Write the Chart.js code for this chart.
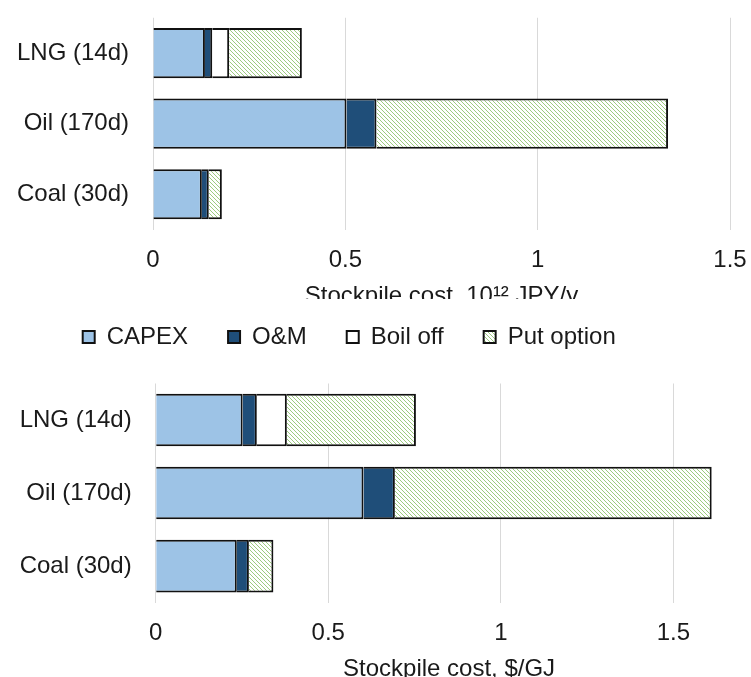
<!DOCTYPE html>
<html>
<head>
<meta charset="utf-8">
<script src="https://cdn.jsdelivr.net/npm/chart.js@4/dist/chart.umd.min.js"></script>
<style>
  body { margin: 0; width: 751px; height: 677px; overflow: hidden; position: relative; background: #fff; }
  #topWrap { position: absolute; left: 0; top: 0; width: 751px; height: 299px; overflow: hidden; }
  #bottomWrap { position: absolute; left: 0; top: 284px; width: 751px; height: 400px; }
</style>
</head>
<body>
<div id="topWrap"><canvas id="jpyChart" width="751" height="311"></canvas></div>
<div id="bottomWrap"><canvas id="gjChart" width="751" height="400"></canvas></div>
<script>
// 品目と系列
const categories = ['LNG (14d)', 'Oil (170d)', 'Coal (30d)'];
const seriesNames = ['CAPEX', 'O&M', 'Boil off', 'Put option'];
const xTicks = [0, 0.5, 1, 1.5];

// 備蓄コスト 10^12 JPY/y
const jpyCapex = [0.135, 0.503, 0.127];
const jpyOm = [0.019, 0.078, 0.018];
const jpyBoilOff = [0.044, null, null];
const jpyPut = [0.189, 0.758, 0.034];

// 備蓄コスト $/GJ
const gjCapex = [0.252, 0.602, 0.235];
const gjOm = [0.041, 0.091, 0.035];
const gjBoilOff = [0.087, null, null];
const gjPut = [0.374, 0.918, 0.071];

const FONT = "'Liberation Sans', Arial, sans-serif";
const TEXT = '#1a1a1a';
const GRID = '#d9d9d9';
const CLEAR = 'rgba(0,0,0,0)';

// 斜線ハッチ (Put option)
function makeHatch(ctx) {
    const tile = document.createElement('canvas');
    tile.width = 8;
    tile.height = 8;
    const c = tile.getContext('2d');
    c.fillStyle = '#ffffff';
    c.fillRect(0, 0, 8, 8);
    c.fillStyle = '#9ccb80';
    for (let i = 0; i < 8; i++) {
        c.fillRect(i, i, 1, 1);
        c.fillRect(i, (i + 4) % 8, 1, 1);
    }
    return ctx.createPattern(tile, 'repeat');
}

function buildDatasets(capex, om, boil, put, hatch, barPct) {
    const fills = ['#9dc3e6', '#1f4e79', '#ffffff', hatch];
    return [capex, om, boil, put].map((data, i) => ({
        label: seriesNames[i],
        data: data,
        backgroundColor: fills[i],
        borderColor: '#111111',
        borderWidth: 2,
        barPercentage: barPct,
        categoryPercentage: 1
    }));
}

function buildOptions(opts) {
    return {
        indexAxis: 'y',
        responsive: false,
        animation: false,
        layout: { padding: opts.padding },
        plugins: {
            legend: opts.legend,
            tooltip: { enabled: false }
        },
        scales: {
            x: {
                stacked: true,
                min: 0,
                max: opts.max,
                afterBuildTicks: scale => { scale.ticks = xTicks.map(v => ({ value: v })); },
                afterFit: scale => { scale.height = 81.4; },
                ticks: {
                    color: TEXT,
                    font: { family: FONT, size: 24 },
                    padding: 0,
                    callback: v => String(v)
                },
                // 目盛り線は透明にして、ラベルとの間隔だけに使う
                grid: { color: GRID, lineWidth: 1, drawTicks: true, tickLength: 16, tickColor: CLEAR },
                border: { display: false },
                title: {
                    display: true,
                    text: opts.title,
                    color: TEXT,
                    font: { family: FONT, size: 24 },
                    padding: 0
                }
            },
            y: {
                stacked: true,
                afterFit: scale => { scale.width = opts.yWidth; },
                ticks: { color: TEXT, font: { family: FONT, size: 24 }, padding: 0 },
                grid: { color: CLEAR, drawOnChartArea: false, drawTicks: true, tickLength: 24, tickColor: CLEAR },
                border: { display: false }
            }
        }
    };
}

// 凡例の高さを固定し、項目を右へずらす
const legendSpacer = {
    id: 'legendSpacer',
    beforeInit(chart) {
        if (!chart.legend) return;
        const origFit = chart.legend.fit;
        chart.legend.fit = function fit() {
            origFit.bind(chart.legend)();
            this.height = 98.5;
        };
    },
    afterLayout(chart) {
        if (!chart.legend) return;
        chart.legend.left += 42.7;
        chart.legend.right += 42.7;
    }
};

const jpyCtx = document.getElementById('jpyChart').getContext('2d');
new Chart(jpyCtx, {
    type: 'bar',
    data: {
        labels: categories,
        datasets: buildDatasets(jpyCapex, jpyOm, jpyBoilOff, jpyPut, makeHatch(jpyCtx), 0.71)
    },
    options: buildOptions({
        padding: { top: 17.75, left: 0, right: 21, bottom: 0 },
        legend: { display: false },
        max: 1.5,
        yWidth: 153,
        title: 'Stockpile cost, 10¹² JPY/y'
    })
});

const gjCtx = document.getElementById('gjChart').getContext('2d');
new Chart(gjCtx, {
    type: 'bar',
    data: {
        labels: categories,
        datasets: buildDatasets(gjCapex, gjOm, gjBoilOff, gjPut, makeHatch(gjCtx), 0.72)
    },
    options: buildOptions({
        padding: { top: 1, left: 0, right: 8.6, bottom: 0 },
        legend: {
            display: true,
            position: 'top',
            align: 'start',
            labels: {
                boxWidth: 12,
                boxHeight: 12,
                padding: 40,
                color: TEXT,
                font: { family: FONT, size: 24 }
            }
        },
        max: 1.7,
        yWidth: 155.7,
        title: 'Stockpile cost, $/GJ'
    }),
    plugins: [legendSpacer]
});
</script>
</body>
</html>
